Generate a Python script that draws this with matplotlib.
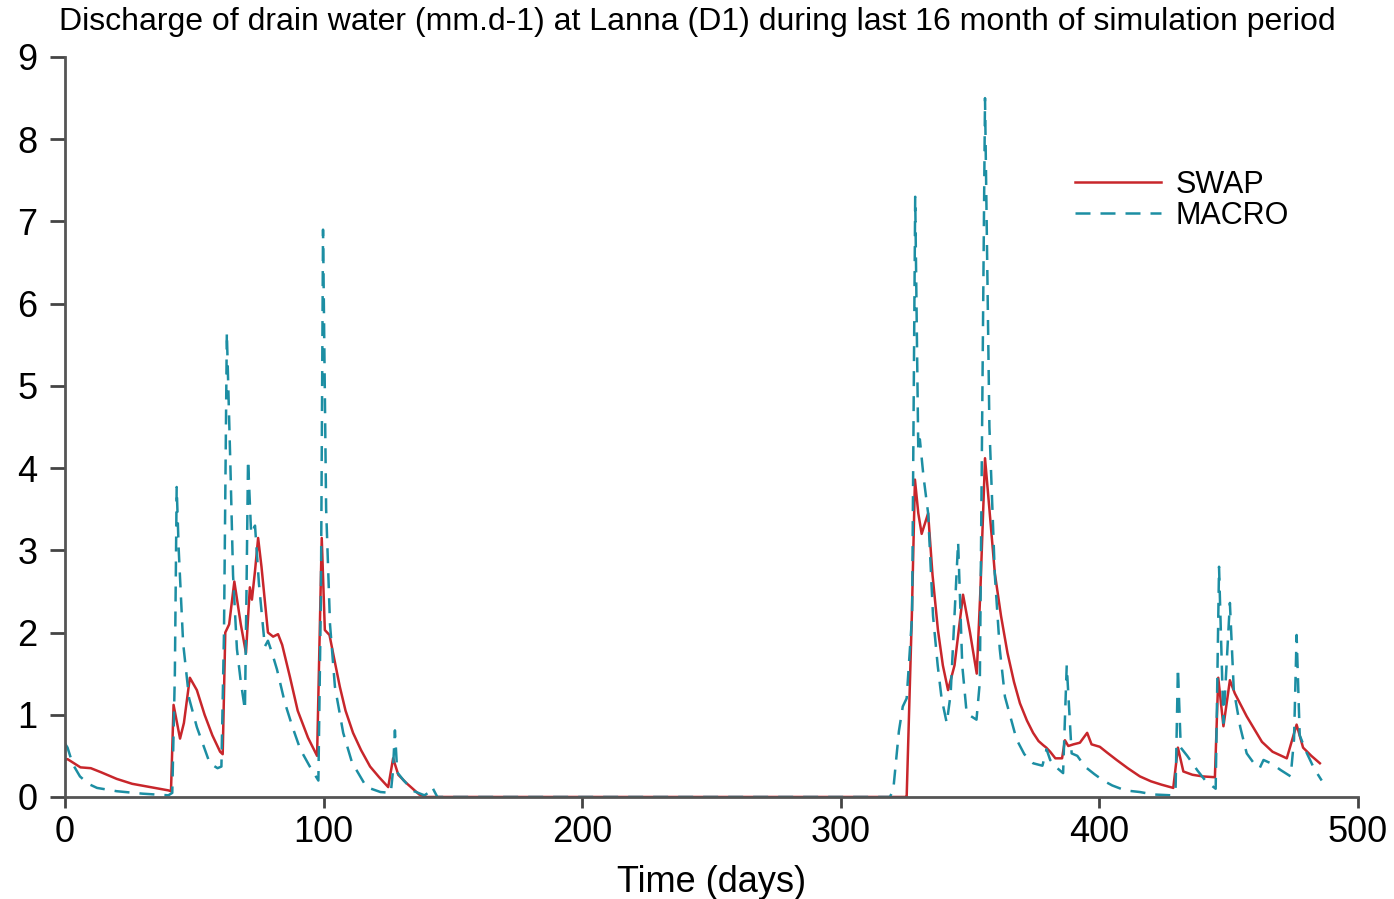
import matplotlib
matplotlib.use("Agg")
import matplotlib.pyplot as plt

plt.rcParams['font.family'] = ['Liberation Sans', 'DejaVu Sans']

# SWAP series (day, discharge mm/d)
swap_days = [0, 1, 6, 10, 14, 20, 26, 33, 40, 41, 42, 44.5, 46, 48.3, 51, 54, 57, 60, 61, 62, 63.5,
             65.5, 68, 70, 71.5, 72.3, 73.5, 74.7, 76, 78.5, 80.5, 82.4, 84, 87, 90, 94, 97.5, 99.3,
             100.5, 102.3, 104, 106.3, 108.5, 111.4, 114.5, 118, 121.5, 125, 126.9, 128.9, 132, 137, 140,
             325, 325.5, 327.5, 328.7, 330, 331.3, 333.8, 335.5, 337.6, 339.5, 341.5, 344, 347.3, 350, 352.6,
             354, 355.8, 357.5, 359.6, 362, 364.5, 367, 369.3, 372, 374.4, 376.5, 378.3, 379.5, 381, 383, 385.6,
             386.7, 388, 390, 392.5, 395.3, 397, 400.2, 403, 406.7, 411, 415.7, 420, 424, 428.6, 430.4, 432.5,
             436, 440, 444.7, 446, 448, 450.5, 452.4, 457, 462.9, 467, 472.5, 476.3, 478.8, 482, 485.3]
swap_vals = [0.45, 0.46, 0.36, 0.35, 0.3, 0.22, 0.16, 0.12, 0.08, 0.07, 1.12, 0.71, 0.9, 1.45, 1.3, 1.0, 0.75, 0.55, 0.52, 2.0, 2.1,
             2.62, 2.1, 1.75, 2.55, 2.4, 2.75, 3.15, 2.8, 2.0, 1.95, 1.98, 1.85, 1.46, 1.05, 0.72, 0.5, 3.15,
             2.03, 1.97, 1.7, 1.34, 1.05, 0.78, 0.57, 0.37, 0.24, 0.12, 0.47, 0.27, 0.17, 0.03, 0.0,
             0.0, 0.0, 2.2, 3.86, 3.45, 3.2, 3.45, 2.7, 2.03, 1.6, 1.3, 1.6, 2.46, 2.0, 1.5,
             2.5, 4.12, 3.5, 2.72, 2.2, 1.75, 1.4, 1.14, 0.93, 0.78, 0.68, 0.63, 0.6, 0.55, 0.47, 0.47,
             0.69, 0.62, 0.64, 0.66, 0.78, 0.64, 0.61, 0.54, 0.45, 0.35, 0.25, 0.19, 0.15, 0.11, 0.6, 0.31,
             0.27, 0.25, 0.24, 1.45, 0.86, 1.42, 1.26, 0.98, 0.67, 0.55, 0.47, 0.88, 0.6, 0.5, 0.41]

# MACRO series
macro_days = [0, 1, 3, 5.8, 9, 12.4, 20, 30, 40, 41.5, 42.5, 43.2, 44, 45.7, 48, 51, 56, 59, 60.5,
              61.5, 62.6, 64, 65, 66.5, 68, 69.6, 70.2, 70.8, 72, 73.5, 75, 77.3, 78.5, 80, 82, 85, 88, 91, 94.7, 98,
              99, 99.8, 101, 102.5, 104.4, 107.6, 111, 116.6, 122, 126, 126.8, 127.6, 128.5, 131, 135, 139,
              141, 142, 144,
              319, 320.3, 322.5, 324, 325.5, 327.6, 328.8, 330, 330.6, 332, 333.8, 335.7, 337.5, 339, 341, 342.5,
              345.4, 347, 348.7, 350.5, 352.5, 353.8, 355.8, 357.5, 359.6, 361.5, 363.5, 366.7, 368, 371, 374.4,
              378, 379.6, 381, 383, 386, 387.4, 389.3, 391.5, 394.4, 398, 401.5, 405, 410, 415.7, 421, 428, 429.5,
              430.4, 431.5, 434, 438, 441, 445, 446.3, 448, 450.5, 452, 454.5, 457, 460, 462, 463.5, 467, 470,
              474, 475.3, 476.3, 477.5, 480, 483, 486]
macro_vals = [0.65, 0.6, 0.4, 0.25, 0.16, 0.11, 0.07, 0.04, 0.02, 0.05, 1.5, 3.77, 3.0, 1.87, 1.2, 0.85, 0.41, 0.35, 0.37,
              2.0, 5.65, 4.0, 2.7, 1.8, 1.4, 1.06, 2.5, 4.1, 3.2, 3.3, 2.6, 1.83, 1.9, 1.76, 1.55, 1.15, 0.85, 0.58, 0.37, 0.2,
              2.5, 6.9, 3.5, 2.1, 1.34, 0.78, 0.42, 0.12, 0.06, 0.05, 0.3, 0.81, 0.3, 0.2, 0.07, 0.02,
              0.06, 0.12, 0.0,
              0.0, 0.08, 0.8, 1.1, 1.2, 2.2, 7.3, 4.2, 4.35, 3.9, 3.45, 2.2, 1.6, 1.2, 0.9, 1.25,
              3.1, 1.6, 1.02, 0.98, 0.94, 1.4, 8.5, 4.5, 2.7, 1.8, 1.22, 0.85, 0.7, 0.52, 0.41,
              0.38, 0.58, 0.45, 0.37, 0.29, 1.6, 0.53, 0.5, 0.37, 0.28, 0.2, 0.14, 0.08, 0.06, 0.03, 0.02, 0.1,
              1.57, 0.6, 0.5, 0.32, 0.2, 0.1, 2.8, 0.9, 2.36, 1.3, 0.85, 0.53, 0.4, 0.35, 0.45, 0.4, 0.33,
              0.25, 0.7, 1.97, 0.75, 0.55, 0.35, 0.2]

x_ticks = [0, 100, 200, 300, 400, 500]
y_ticks = [0, 1, 2, 3, 4, 5, 6, 7, 8, 9]

fig = plt.figure(figsize=(13.94, 8.99), dpi=100)
ax = fig.add_axes([0.0466, 0.1135, 0.9275, 0.8231])

red = '#c8262b'
teal = '#1c8ea3'
ax.plot(swap_days, swap_vals, color=red, lw=1.8, label='SWAP')
ax.plot(macro_days, macro_vals, color=teal, lw=1.8, ls=(0, (6, 4)), label='MACRO')

ax.set_xlim(0, 500)
ax.set_ylim(0, 9)
ax.set_xticks(x_ticks)
ax.set_yticks(y_ticks)
ax.tick_params(axis='both', labelsize=26, width=2, color='#444444')
ax.tick_params(axis='y', length=11, pad=9)
ax.tick_params(axis='x', length=8, pad=5)
for s in ['top', 'right']:
    ax.spines[s].set_visible(False)
for s in ['left', 'bottom']:
    ax.spines[s].set_linewidth(2)
    ax.spines[s].set_color('#555555')

ax.set_xlabel('Time (days)', fontsize=26, labelpad=11)
fig.text(0.5, 0.9755, 'Discharge of drain water (mm.d-1) at Lanna (D1) during last 16 month of simulation period',
         ha='center', va='center', fontsize=23)

leg = ax.legend(loc='upper left', bbox_to_anchor=(0.76, 0.885), frameon=False, fontsize=22,
                handlelength=2.8, handletextpad=0.5, labelspacing=0.05)

fig.savefig('out.png', dpi=100)
